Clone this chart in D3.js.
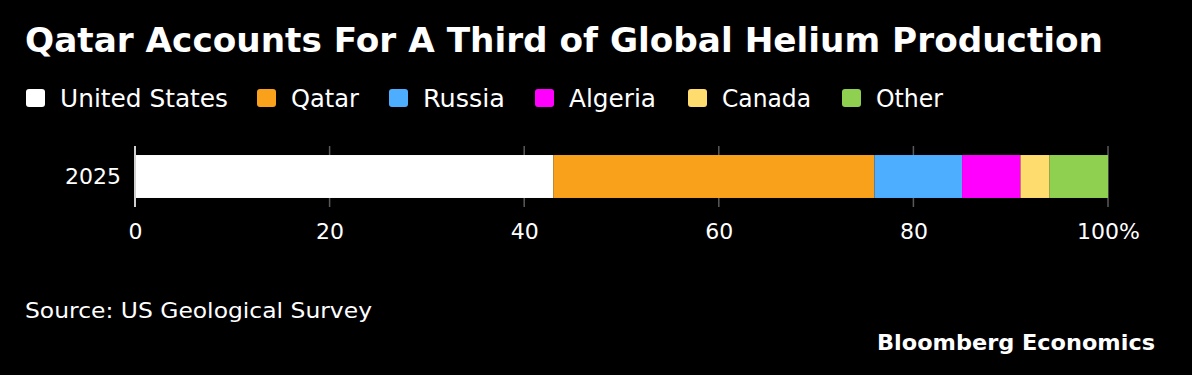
<!DOCTYPE html>
<html>
<head>
<meta charset="utf-8">
<script src="https://cdn.jsdelivr.net/npm/d3@7"></script>
<style>
  html, body { margin: 0; padding: 0; background: #000; }
  svg { display: block; }
  text { font-family: "DejaVu Sans", "Noto Sans", sans-serif; fill: #fff; }
</style>
</head>
<body>
<svg id="chart" width="1192" height="375"></svg>
<script>
// ---- Data ----
const categories = ["2025"];
const seriesNames = ["United States", "Qatar", "Russia", "Algeria", "Canada", "Other"];
const seriesValues = [43, 33, 9, 6, 3, 6];
const seriesColors = ["#ffffff", "#f9a11b", "#4daeff", "#ff00ff", "#ffdc6e", "#90d050"];
const tickValues = [0, 20, 40, 60, 80, 100];
const tickLabels = ["0", "20", "40", "60", "80", "100%"];

const W = 1192, H = 375;
const svg = d3.select("#chart");
svg.append("rect").attr("width", W).attr("height", H).attr("fill", "#000");

function fit(sel, w) {
  const node = sel.node();
  const len = node.getComputedTextLength();
  if (len > 0) sel.attr("textLength", w).attr("lengthAdjust", "spacingAndGlyphs");
  return sel;
}

// Title
fit(svg.append("text").attr("x", 25).attr("y", 52)
  .attr("font-size", 34).attr("font-weight", "bold")
  .text("Qatar Accounts For A Third of Global Helium Production"), 1078);

// Legend
const legendX = [26, 257, 389, 535, 688, 842];
const legendW = [168, 68, 82, 87, 89, 67];
const lg = svg.append("g");
seriesNames.forEach((n, i) => {
  lg.append("rect").attr("x", legendX[i]).attr("y", 89).attr("width", 19).attr("height", 18)
    .attr("rx", 3).attr("fill", seriesColors[i]);
  fit(lg.append("text").attr("x", legendX[i] + 34).attr("y", 107)
    .attr("font-size", 24).text(n), legendW[i]);
});

// Scales
const x = d3.scaleLinear().domain([0, 100]).range([135, 1108]);
const y = d3.scaleBand().domain(categories).range([146, 207]).paddingInner(0).paddingOuter(0.21);

// Gridlines
svg.append("g").selectAll("line").data(tickValues.filter(d => d > 0)).join("line")
  .attr("x1", d => x(d)).attr("x2", d => x(d))
  .attr("y1", 146).attr("y2", 207)
  .attr("stroke", "#5a5a5a").attr("stroke-width", 1.5);

// Stacked bar
const data = categories.map((c) => {
  const o = { cat: c };
  seriesNames.forEach((n, i) => o[n] = seriesValues[i]);
  return o;
});
const stack = d3.stack().keys(seriesNames)(data);
svg.append("g").selectAll("g").data(stack).join("g")
  .attr("fill", (d, i) => seriesColors[i])
  .selectAll("rect").data(d => d).join("rect")
  .attr("x", d => x(d[0]))
  .attr("width", d => x(d[1]) - x(d[0]))
  .attr("y", d => y(d.data.cat))
  .attr("height", y.bandwidth());

// Zero axis line
svg.append("line").attr("x1", x(0)).attr("x2", x(0)).attr("y1", 146).attr("y2", 207)
  .attr("stroke", "#cfcfcf").attr("stroke-width", 2);

// X axis labels
const xAxis = d3.axisBottom(x).tickValues(tickValues)
  .tickFormat((d, i) => tickLabels[i]).tickSize(0).tickPadding(0);
const gx = svg.append("g").attr("transform", "translate(0,223)").call(xAxis);
gx.select(".domain").remove();
gx.selectAll("text").attr("font-size", 22).attr("fill", "#fff")
  .style("font-family", '"DejaVu Sans", sans-serif').attr("dy", "0.71em");

// Y axis labels
const yAxis = d3.axisLeft(y).tickSize(0).tickPadding(0);
const gy = svg.append("g").attr("transform", "translate(121,0)").call(yAxis);
gy.select(".domain").remove();
gy.selectAll("text").attr("font-size", 22).attr("fill", "#fff")
  .style("font-family", '"DejaVu Sans", sans-serif');

// Source
fit(svg.append("text").attr("x", 25).attr("y", 318).attr("font-size", 22)
  .text("Source: US Geological Survey"), 347);

// Branding
fit(svg.append("text").attr("x", 877).attr("y", 350).attr("font-size", 22).attr("font-weight", "bold")
  .text("Bloomberg Economics"), 278);
</script>
</body>
</html>
